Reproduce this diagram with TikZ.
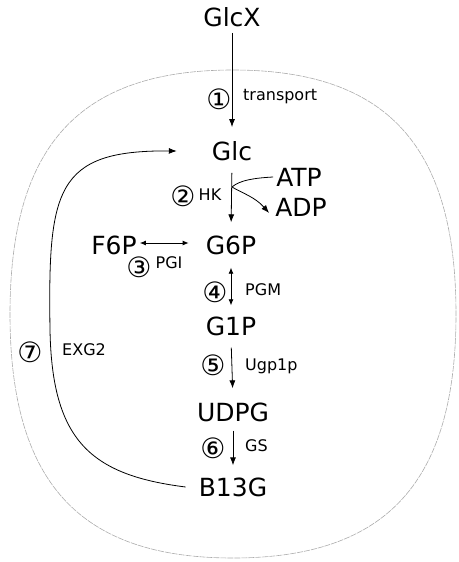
\documentclass[tikz,border=0pt]{standalone}
\usepackage{fontspec}
\setmainfont{DejaVu Sans}
\usetikzlibrary{arrows.meta}
\begin{document}
\begin{tikzpicture}[x=1pt,y=-1pt,
  met/.style={font=\fontsize{25}{25}\selectfont, inner sep=3pt},
  lab/.style={font=\fontsize{16}{16}\selectfont, inner sep=0pt},
  num/.style={font=\fontsize{28}{28}\selectfont, inner sep=0pt},
  arr/.style={line width=0.8pt, -{Latex[length=8pt,width=6pt]}},
  darr/.style={line width=0.8pt, {Latex[length=6pt,width=5pt]}-{Latex[length=6pt,width=5pt]}},
  ln/.style={line width=0.8pt},
  cell/.style={gray!65, line width=0.6pt, dash pattern=on 6pt off 1pt}]
\useasboundingbox (0,0) rectangle (458,562);
% cell outline (superellipse-like)
\coordinate (ct) at (233,70);
\coordinate (cr) at (456,314);
\coordinate (cb) at (233,558);
\coordinate (cl) at (10,314);
\draw[cell] (ct) .. controls (387,70) and (456,146) .. (cr)
  .. controls (456,482) and (387,558) .. (cb)
  .. controls (79,558) and (10,482) .. (cl)
  .. controls (10,146) and (79,70) .. (ct);
% metabolites
\node[met] (GlcX) at (232,17) {GlcX};
\node[met] (Glc) at (232,151) {Glc};
\node[met] (ATP) at (299,177) {ATP};
\node[met] (ADP) at (301,207) {ADP};
\node[met] (G6P) at (231,245) {G6P};
\node[met] (F6P) at (114,245) {F6P};
\node[met] (G1P) at (231,326) {G1P};
\node[met] (UDPG) at (233,412) {UDPG};
\node[met] (B13G) at (233,487) {B13G};
% enzyme labels
\node[num] (n1) at (219,99) {①};
\node[lab, anchor=west] (transport) at (243,97) {transport};
\node[num] (n2) at (183,196) {②};
\node[lab] (HK) at (210,195) {HK};
\node[num] (n3) at (139,267) {③};
\node[lab] (PGI) at (169,263) {PGI};
\node[num] (n4) at (215,292) {④};
\node[lab, anchor=west] (PGM) at (245,290) {PGM};
\node[num] (n5) at (213,365) {⑤};
\node[lab, anchor=west] (Ugp) at (245,366) {Ugp1p};
\node[num] (n6) at (213,448) {⑥};
\node[lab, anchor=west] (GS) at (245,446) {GS};
\node[num] (n7) at (30,352) {⑦};
\node[lab, anchor=west] (EXG2) at (62,350) {EXG2};
% reactions
\draw[arr, shorten <=3pt, shorten >=11pt] (GlcX.south) -- (Glc.north);
\draw[arr, shorten <=9pt, shorten >=10pt] (Glc.south) -- (G6P.north);
\coordinate (br) at (232,187);
\draw[ln] (br) .. controls (240,180) and (255,178) .. (ATP.west);
\draw[arr] (br) .. controls (242,193) and (255,197) .. ([xshift=-3pt,yshift=-6pt]ADP.west);
\draw[darr, shorten >=14pt] ([yshift=2pt]F6P.east) -- ([yshift=2pt]G6P.west);
\draw[darr, shorten <=10pt, shorten >=8pt] (G6P.south) -- (G1P.north);
\draw[arr, shorten <=9pt, shorten >=11pt] (G1P.south) -- (UDPG.north);
\draw[arr, shorten <=6pt, shorten >=9pt] (UDPG.south) -- (B13G.north);
\draw[arr] ([xshift=-10pt]B13G.west) .. controls (90,475) and (52,440) .. (50,330)
  .. controls (48,190) and (55,150) .. ([xshift=-32pt]Glc.west);
\end{tikzpicture}
\end{document}
